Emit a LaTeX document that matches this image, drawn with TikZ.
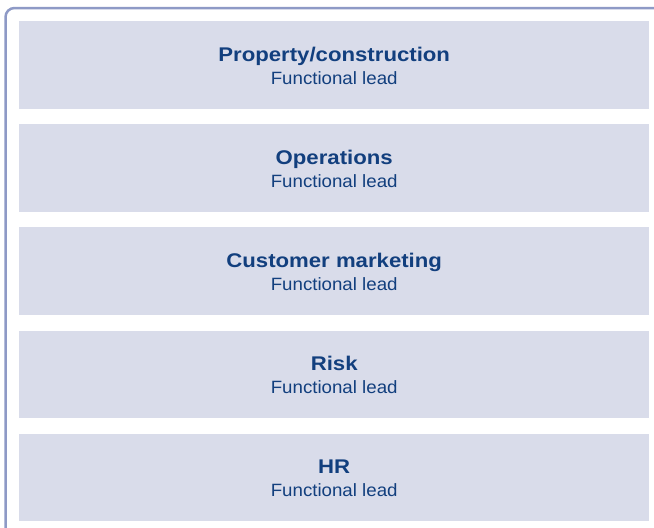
\documentclass[tikz,border=0pt]{standalone}
\usepackage{fontspec}
\setmainfont{Liberation Sans}
\newfontfamily\ttlfont[FakeStretch=1.12]{Liberation Sans}
\newfontfamily\subfont[FakeStretch=1.05]{Liberation Sans}
\definecolor{boxfill}{HTML}{D9DCEA}
\definecolor{frame}{HTML}{8E9AC6}
\definecolor{txt}{HTML}{123F7E}
\begin{document}
\begin{tikzpicture}[x=1pt,y=-1pt,
  unit/.style={draw=none,fill=boxfill,minimum width=630pt,minimum height=87.7pt,inner sep=0pt,anchor=north west,align=center,text=txt},
  ttl/.style={font=\ttlfont\bfseries\fontsize{19.8}{22}\selectfont,inner sep=0pt},
  sub/.style={font=\subfont\fontsize{17.8}{20}\selectfont,inner sep=0pt}]
\useasboundingbox (0,0) rectangle (654,528);
\draw[frame,line width=2.5pt,rounded corners=9pt] (5.5,560) -- (5.5,8) -- (680,8);
\foreach \i/\t in {0/Property\slash construction,1/Operations,2/Customer marketing,3/Risk,4/HR}{
  \node[unit] (b\i) at (19,{21+\i*103.1}) {};
  \node[ttl,text=txt,anchor=base] (t\i) at ([yshift=4pt]b\i.center) {\t};
  \node[sub,text=txt,anchor=base] (s\i) at ([yshift=-19pt]b\i.center) {Functional lead};
}
\end{tikzpicture}
\end{document}
